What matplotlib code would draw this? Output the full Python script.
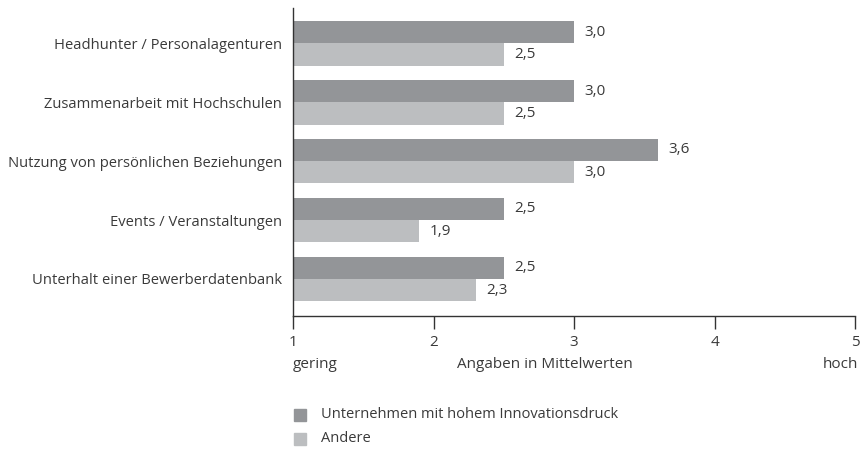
import matplotlib
matplotlib.use("Agg")
import matplotlib.pyplot as plt
from matplotlib.patches import Rectangle
import numpy as np

categories = ["Headhunter / Personalagenturen", "Zusammenarbeit mit Hochschulen",
              "Nutzung von persönlichen Beziehungen", "Events / Veranstaltungen",
              "Unterhalt einer Bewerberdatenbank"]
innov = [3.0, 3.0, 3.6, 2.5, 2.5]
andere = [2.5, 2.5, 3.0, 1.9, 2.3]
series_names = ["Unternehmen mit hohem Innovationsdruck", "Andere"]
xticks = [1, 2, 3, 4, 5]

dark = "#939598"
light = "#bcbec0"
txt = "#3a3a3a"

plt.rcParams['font.family'] = ['Open Sans', 'DejaVu Sans']
fig = plt.figure(figsize=(8.63, 4.5), dpi=100)
W, H = 863, 450
ax = fig.add_axes([293 / W, 1 - 316 / H, (855 - 293) / W, (316 - 8) / H])

y = np.arange(len(categories))
h = 0.38
ax.barh(y - h / 2, [v - 1 for v in innov], left=1, height=h, color=dark, align='center')
ax.barh(y + h / 2, [v - 1 for v in andere], left=1, height=h, color=light, align='center')
for yi, v in zip(y, innov):
    ax.text(v + 0.075, yi - h / 2, f"{v:.1f}".replace(".", ","), va='center', ha='left', fontsize=11, color=txt)
for yi, v in zip(y, andere):
    ax.text(v + 0.075, yi + h / 2, f"{v:.1f}".replace(".", ","), va='center', ha='left', fontsize=11, color=txt)

ax.set_xlim(1, 5)
ax.set_ylim(len(categories) - 1 + 0.63, -0.60)
ax.set_yticks(y)
ax.set_yticklabels(categories, fontsize=10.6, color=txt)
ax.tick_params(axis='y', length=0, pad=8)
ax.set_xticks(xticks)
ax.set_xticklabels([str(t) for t in xticks], fontsize=11, color=txt)
ax.tick_params(axis='x', length=9, width=1, color="#333333", pad=5)
for s in ['top', 'right']:
    ax.spines[s].set_visible(False)
for s in ['left', 'bottom']:
    ax.spines[s].set_color("#333333")
    ax.spines[s].set_linewidth(1)

fig.text(293 / W, 1 - 365 / H, "gering", ha='left', va='center', fontsize=11, color=txt)
fig.text(545 / W, 1 - 365 / H, "Angaben in Mittelwerten", ha='center', va='center', fontsize=11, color=txt)
fig.text(858 / W, 1 - 365 / H, "hoch", ha='right', va='center', fontsize=11, color=txt)

for i, (name, c) in enumerate(zip(series_names, [dark, light])):
    yc = 415 + i * 24
    fig.patches.append(Rectangle((294 / W, 1 - (yc + 6) / H), 12 / W, 12 / H,
                                 transform=fig.transFigure, color=c, figure=fig))
    fig.text(321 / W, 1 - yc / H, name, ha='left', va='center', fontsize=10.5, color=txt)

fig.savefig("out.png", dpi=100)
